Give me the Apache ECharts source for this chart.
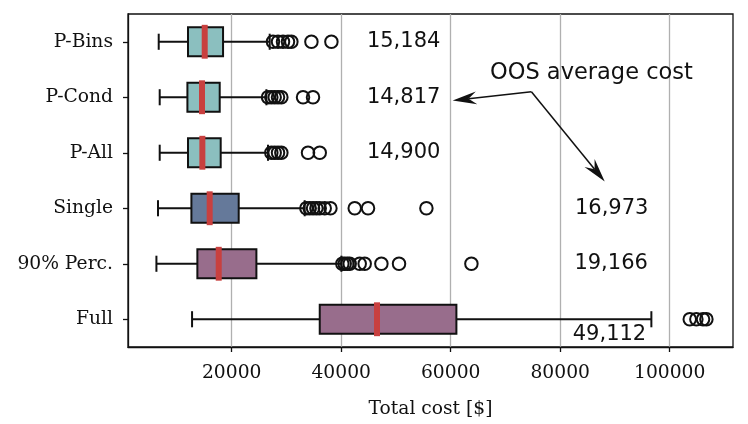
<!DOCTYPE html>
<html>
<head>
<meta charset="utf-8">
<script src="https://cdn.jsdelivr.net/npm/echarts@6/dist/echarts.min.js"></script>
<style>
  html, body { margin: 0; padding: 0; background: #fff; }
  #chart { width: 748px; height: 424px; }
</style>
</head>
<body>
<div id="chart"></div>
<script>
// 数据（从图上读出来的）
const categories = ['P-Bins', 'P-Cond', 'P-All', 'Single', '90% Perc.', 'Full'];
const whiskerLow  = [6670, 6850, 6850, 6540, 6250, 12760];
const q1          = [12020, 11910, 12020, 12640, 13730, 36080];
const median      = [15070, 14580, 14640, 15980, 17630, 46540];
const q3          = [18420, 17810, 17990, 21280, 24510, 61040];
const whiskerHigh = [26940, 26340, 26630, 33330, 40030, 96650];
const outliers = [
  [27540, 28460, 29370, 30280, 30900, 34560, 38210],
  [26630, 27240, 27850, 28460, 29070, 33030, 34850],
  [27240, 27850, 28460, 29070, 33940, 36080],
  [33640, 34250, 34860, 35470, 36080, 36990, 38030, 42470, 44900, 55560],
  [40210, 40640, 41130, 41550, 43380, 44290, 47340, 50560, 63780],
  [103660, 104870, 106090, 106700]
];
const avgCost = ['15,184', '14,817', '14,900', '16,973', '19,166', '49,112'];
const xTicks = [20000, 40000, 60000, 80000, 100000];

// 注释位置（数据坐标）
const avgLabelAt = [[51400, 0], [51400, 1], [51400, 2], [89400, 3], [89300, 4], [89000, 5.27]];
const noteText = 'OOS average cost';
const noteAt = [85700, 0.56];
const arrowFrom = [74740, 0.9];
const arrowTo = [[60360, 1.06], [88130, 2.52]];

const boxColors = ['#8bbfbf', '#8bbfbf', '#8bbfbf', '#65799a', '#986d8c', '#986d8c'];
const serif = 'DejaVu Serif';
const sans = 'DejaVu Sans';

const boxData = categories.map((c, i) => [i, whiskerLow[i], q1[i], median[i], q3[i], whiskerHigh[i]]);
const outlierData = [];
outliers.forEach((arr, i) => arr.forEach(v => outlierData.push([v, i])));

function renderBox(params, api) {
  const idx = api.value(0);
  const bh = api.size([0, 1])[1];
  const lo = api.coord([api.value(1), idx]);
  const a = api.coord([api.value(2), idx]);
  const m = api.coord([api.value(3), idx]);
  const b = api.coord([api.value(4), idx]);
  const hi = api.coord([api.value(5), idx]);
  const y = lo[1];
  const boxH = bh * 0.52, capH = bh * 0.29, medH = bh * 0.61;
  const ls = { stroke: '#111', lineWidth: 2, fill: null };
  return {
    type: 'group',
    children: [
      { type: 'line', shape: { x1: lo[0], y1: y, x2: a[0], y2: y }, style: ls },
      { type: 'line', shape: { x1: b[0], y1: y, x2: hi[0], y2: y }, style: ls },
      { type: 'line', shape: { x1: lo[0], y1: y - capH / 2, x2: lo[0], y2: y + capH / 2 }, style: ls },
      { type: 'line', shape: { x1: hi[0], y1: y - capH / 2, x2: hi[0], y2: y + capH / 2 }, style: ls },
      { type: 'rect', shape: { x: a[0], y: y - boxH / 2, width: b[0] - a[0], height: boxH },
        style: { fill: boxColors[params.dataIndex], stroke: '#111', lineWidth: 2 } },
      { type: 'rect', shape: { x: m[0] - 3, y: y - medH / 2, width: 6, height: medH },
        style: { fill: '#c8403f' } }
    ]
  };
}

function renderAvg(params, api) {
  const p = api.coord([api.value(0), api.value(1)]);
  return {
    type: 'text',
    x: p[0], y: p[1],
    style: {
      text: avgCost[params.dataIndex],
      font: '21px "' + sans + '"',
      fill: '#111',
      align: 'center',
      verticalAlign: 'middle'
    }
  };
}

function renderNote(params, api) {
  const t = api.coord(noteAt);
  const s = api.coord(arrowFrom);
  const children = [{
    type: 'text', x: t[0], y: t[1],
    style: { text: noteText, font: '22.5px "' + sans + '"', fill: '#111', align: 'center', verticalAlign: 'middle' }
  }];
  arrowTo.forEach(to => {
    const e = api.coord(to);
    const dx = e[0] - s[0], dy = e[1] - s[1];
    const len = Math.sqrt(dx * dx + dy * dy);
    const ux = dx / len, uy = dy / len;
    const nx = -uy, ny = ux;
    const headLen = 24, halfW = 6.5, notch = 8;
    const bx = e[0] - ux * headLen, by = e[1] - uy * headLen;
    const ix = e[0] - ux * (headLen - notch), iy = e[1] - uy * (headLen - notch);
    children.push({ type: 'line', shape: { x1: s[0], y1: s[1], x2: ix, y2: iy },
      style: { stroke: '#111', lineWidth: 1.5 } });
    children.push({ type: 'polygon',
      shape: { points: [[e[0], e[1]], [bx + nx * halfW, by + ny * halfW], [ix, iy], [bx - nx * halfW, by - ny * halfW]] },
      style: { fill: '#111' } });
  });
  return { type: 'group', children: children };
}

const chart = echarts.init(document.getElementById('chart'));
chart.setOption({
  backgroundColor: '#fff',
  animation: false,
  grid: {
    left: 128, right: 15, top: 14, bottom: 77,
    show: true, borderColor: '#111', borderWidth: 1.3
  },
  xAxis: {
    type: 'value',
    min: 1060,
    max: 111560,
    name: 'Total cost [$]',
    nameLocation: 'middle',
    nameGap: 53,
    nameTextStyle: { fontFamily: serif, fontSize: 18.7, color: '#111' },
    axisLine: { show: true, onZero: false, lineStyle: { color: '#111', width: 1.3 } },
    axisTick: { show: true, length: 5, customValues: xTicks, lineStyle: { color: '#111', width: 1.3 } },
    axisLabel: { customValues: xTicks, formatter: v => String(v), fontFamily: serif, fontSize: 18.7, color: '#111', margin: 17 },
    splitLine: { show: true, lineStyle: { color: '#b0b0b0', width: 1.3 } }
  },
  yAxis: [{
    type: 'category',
    data: categories,
    inverse: true,
    axisLine: { show: true, onZero: false, lineStyle: { color: '#111', width: 1.3 } },
    axisTick: { show: true, length: 5, alignWithLabel: true, lineStyle: { color: '#111', width: 1.3 } },
    axisLabel: { fontFamily: serif, fontSize: 18.7, color: '#111', margin: 15 },
    splitLine: { show: false }
  }, {
    type: 'value',
    min: -0.5,
    max: 5.5,
    inverse: true,
    show: false
  }],
  series: [
    {
      type: 'custom',
      yAxisIndex: 0,
      renderItem: renderBox,
      encode: { x: [1, 2, 3, 4, 5], y: 0 },
      data: boxData,
      z: 3
    },
    {
      type: 'scatter',
      yAxisIndex: 0,
      data: outlierData,
      symbol: 'circle',
      symbolSize: 12.5,
      itemStyle: { color: 'rgba(0,0,0,0)', borderColor: '#111', borderWidth: 2, opacity: 1 },
      z: 4
    },
    {
      type: 'custom',
      yAxisIndex: 1,
      renderItem: renderAvg,
      data: avgLabelAt,
      z: 5
    },
    {
      type: 'custom',
      yAxisIndex: 1,
      renderItem: renderNote,
      data: [[0, 0]],
      z: 5
    }
  ]
});
</script>
</body>
</html>
